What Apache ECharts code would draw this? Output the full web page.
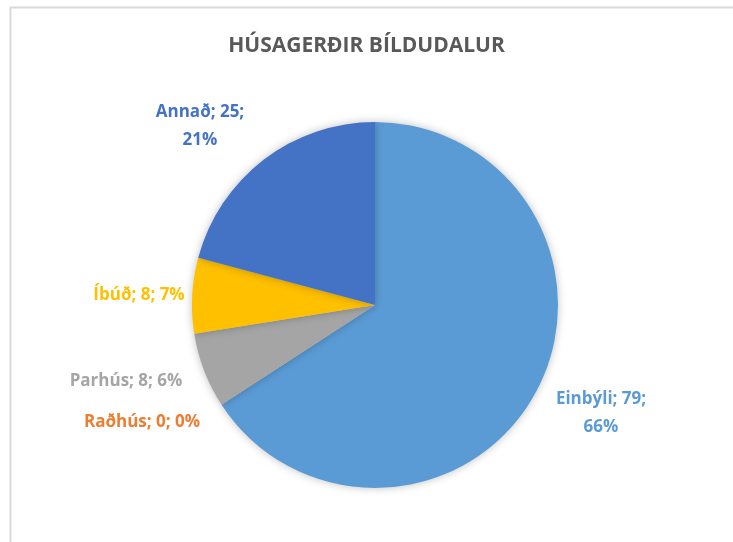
<!DOCTYPE html>
<html>
<head>
<meta charset="utf-8">
<script src="https://cdn.jsdelivr.net/npm/echarts@6/dist/echarts.min.js"></script>
<style>
  html, body { margin: 0; padding: 0; background: #fff; }
  #chart { width: 733px; height: 542px; }
</style>
</head>
<body>
<div id="chart"></div>
<script>
// data
const categories = ['Einbýli', 'Raðhús', 'Parhús', 'Íbúð', 'Annað']
const counts = [79, 0, 8, 8, 25]
const pctLabels = ['66%', '0%', '6%', '7%', '21%']
const colors = ['#5B9BD5', '#ED7D31', '#A5A5A5', '#FFC000', '#4472C4']

// label centres (Excel "best fit" placement)
const labelPos = [[601, 413], [142, 422], [126, 381], [139, 295], [200, 126]]

const chart = echarts.init(document.getElementById('chart'))
chart.setOption({
  animation: false,
  title: {
    text: 'HÚSAGERÐIR BÍLDUDALUR',
    left: 'center',
    top: 31,
    textStyle: { fontFamily: 'Open Sans', fontSize: 21, fontWeight: 'bold', color: '#595959' }
  },
  graphic: [{
    type: 'rect',
    shape: { x: 10.5, y: 7.5, width: 740, height: 560 },
    style: { fill: 'none', stroke: '#d9d9d9', lineWidth: 2 },
    silent: true
  }],
  series: [{
    type: 'pie',
    center: [375, 305],
    radius: 183,
    startAngle: 90,
    clockwise: true,
    minShowLabelAngle: -1,
    avoidLabelOverlap: false,
    itemStyle: {
      borderWidth: 0,
      shadowBlur: 8,
      shadowColor: 'rgba(0,0,0,0.25)'
    },
    label: {
      show: true,
      position: 'outside',
      fontFamily: 'Open Sans',
      fontSize: 17,
      fontWeight: 'bold',
      lineHeight: 28,
      align: 'center',
      formatter: p => {
        const t = p.name + '; ' + p.value + ';'
        if (p.dataIndex === 0 || p.dataIndex === 4) return t + '\n' + pctLabels[p.dataIndex]
        return t + ' ' + pctLabels[p.dataIndex]
      }
    },
    labelLine: { show: false },
    labelLayout: p => ({
      x: labelPos[p.dataIndex][0],
      y: labelPos[p.dataIndex][1],
      align: 'center',
      verticalAlign: 'middle'
    }),
    data: categories.map((c, i) => ({
      name: c,
      value: counts[i],
      itemStyle: { color: colors[i] },
      label: { color: colors[i] }
    }))
  }]
})
</script>
</body>
</html>
